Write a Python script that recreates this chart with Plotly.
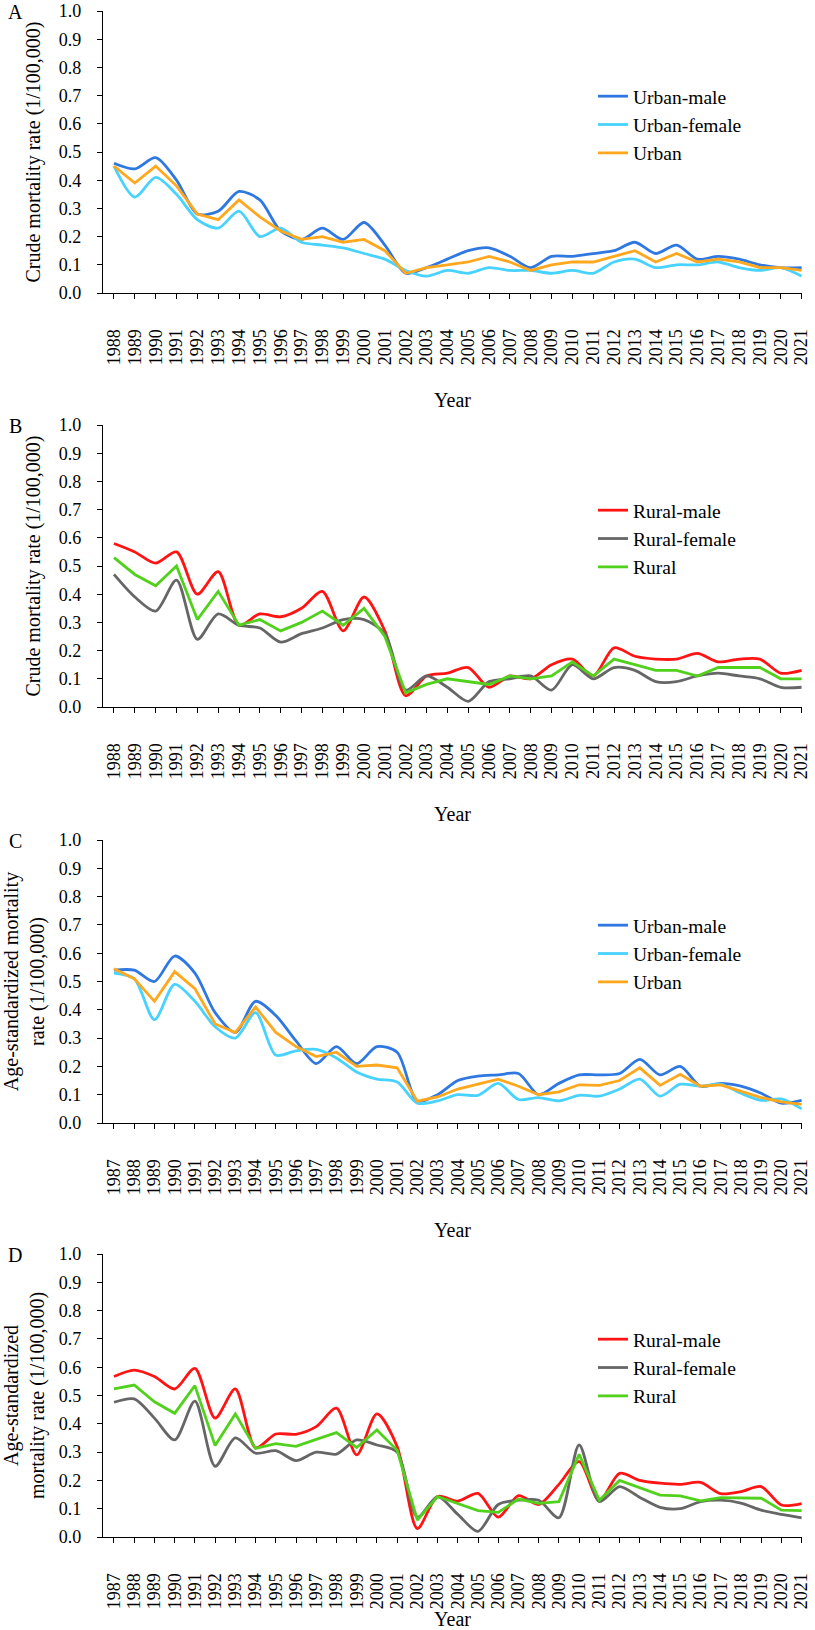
import plotly.graph_objects as go

years_ab = list(range(1988, 2022))
years_cd = list(range(1987, 2022))

# Panel A: crude mortality, urban
a_urban_male = [0.46, 0.44, 0.48, 0.40, 0.28, 0.29, 0.36, 0.33, 0.22, 0.19, 0.23, 0.19, 0.25, 0.17, 0.07,
                0.09, 0.12, 0.15, 0.16, 0.13, 0.09, 0.13, 0.13, 0.14, 0.15, 0.18, 0.14, 0.17, 0.12, 0.13,
                0.12, 0.10, 0.09, 0.09]
a_urban_female = [0.45, 0.34, 0.41, 0.35, 0.26, 0.23, 0.29, 0.20, 0.23, 0.18, 0.17, 0.16, 0.14, 0.12, 0.08,
                  0.06, 0.08, 0.07, 0.09, 0.08, 0.08, 0.07, 0.08, 0.07, 0.11, 0.12, 0.09, 0.10, 0.10, 0.11,
                  0.09, 0.08, 0.09, 0.06]
a_urban = [0.45, 0.39, 0.45, 0.38, 0.28, 0.26, 0.33, 0.27, 0.22, 0.19, 0.20, 0.18, 0.19, 0.15, 0.07,
           0.09, 0.10, 0.11, 0.13, 0.11, 0.08, 0.10, 0.11, 0.11, 0.13, 0.15, 0.11, 0.14, 0.11, 0.12,
           0.11, 0.09, 0.09, 0.08]

# Panel B: crude mortality, rural
b_rural_male = [0.58, 0.55, 0.51, 0.55, 0.40, 0.48, 0.29, 0.33, 0.32, 0.35, 0.41, 0.27, 0.39, 0.27, 0.04,
                0.11, 0.12, 0.14, 0.07, 0.11, 0.10, 0.15, 0.17, 0.11, 0.21, 0.18, 0.17, 0.17, 0.19, 0.16,
                0.17, 0.17, 0.12, 0.13]
b_rural_female = [0.47, 0.39, 0.34, 0.45, 0.24, 0.33, 0.29, 0.28, 0.23, 0.26, 0.28, 0.31, 0.31, 0.26, 0.06,
                  0.11, 0.07, 0.02, 0.09, 0.10, 0.11, 0.06, 0.15, 0.10, 0.14, 0.13, 0.09, 0.09, 0.11, 0.12,
                  0.11, 0.10, 0.07, 0.07]
b_rural = [0.53, 0.47, 0.43, 0.50, 0.31, 0.41, 0.29, 0.31, 0.27, 0.30, 0.34, 0.29, 0.35, 0.25, 0.05,
           0.08, 0.10, 0.09, 0.08, 0.11, 0.10, 0.11, 0.16, 0.11, 0.17, 0.15, 0.13, 0.13, 0.11, 0.14,
           0.14, 0.14, 0.10, 0.10]

# Panel C: age-standardized mortality, urban
c_urban_male = [0.54, 0.54, 0.50, 0.59, 0.53, 0.39, 0.32, 0.43, 0.38, 0.29, 0.21, 0.27, 0.21, 0.27, 0.25,
                0.077, 0.10, 0.15, 0.166, 0.17, 0.175, 0.10, 0.14, 0.17, 0.17, 0.175, 0.225, 0.17, 0.20,
                0.13, 0.14, 0.13, 0.105, 0.07, 0.08]
c_urban_female = [0.53, 0.51, 0.365, 0.49, 0.43, 0.34, 0.30, 0.39, 0.24, 0.255, 0.26, 0.23, 0.18, 0.155, 0.145,
                  0.07, 0.078, 0.10, 0.098, 0.14, 0.083, 0.09, 0.078, 0.098, 0.095, 0.12, 0.155, 0.095, 0.137,
                  0.13, 0.137, 0.105, 0.08, 0.085, 0.05]
c_urban = [0.545, 0.51, 0.43, 0.535, 0.475, 0.35, 0.32, 0.41, 0.32, 0.27, 0.235, 0.25, 0.20, 0.205, 0.195,
           0.077, 0.092, 0.12, 0.137, 0.155, 0.13, 0.10, 0.11, 0.135, 0.133, 0.15, 0.195, 0.133, 0.172,
           0.13, 0.135, 0.112, 0.09, 0.075, 0.066]

# Panel D: age-standardized mortality, rural
d_rural_male = [0.567, 0.59, 0.567, 0.523, 0.596, 0.42, 0.523, 0.315, 0.364, 0.363, 0.39, 0.455, 0.29, 0.435, 0.32,
                0.03, 0.143, 0.127, 0.154, 0.07, 0.146, 0.115, 0.186, 0.266, 0.128, 0.225, 0.20, 0.19, 0.186,
                0.193, 0.153, 0.16, 0.178, 0.113, 0.118]
d_rural_female = [0.476, 0.488, 0.42, 0.343, 0.48, 0.25, 0.35, 0.296, 0.305, 0.27, 0.30, 0.293, 0.343, 0.325, 0.30,
                  0.07, 0.143, 0.08, 0.02, 0.115, 0.13, 0.13, 0.068, 0.325, 0.125, 0.178, 0.14, 0.105, 0.10,
                  0.125, 0.13, 0.12, 0.095, 0.08, 0.068]
d_rural = [0.523, 0.537, 0.478, 0.437, 0.535, 0.323, 0.435, 0.313, 0.33, 0.32, 0.345, 0.369, 0.316, 0.378, 0.307,
           0.06, 0.143, 0.117, 0.093, 0.087, 0.134, 0.119, 0.125, 0.292, 0.13, 0.20, 0.174, 0.148, 0.145,
           0.128, 0.139, 0.137, 0.137, 0.095, 0.093]

y_ticks = [0.0, 0.1, 0.2, 0.3, 0.4, 0.5, 0.6, 0.7, 0.8, 0.9, 1.0]

C_UM, C_UF, C_U = "#2F78E2", "#47D2FF", "#FFA81E"
C_RM, C_RF, C_R = "#FF1414", "#666666", "#52D11C"

FONT = "Liberation Serif"
W, H = 815, 1630

panels = [
    dict(letter="A", years=years_ab, top=11, bottom=293, ystand=12,
         title="Crude mortality rate (1/100,000)",
         series=[("Urban-male", a_urban_male, C_UM, True),
                 ("Urban-female", a_urban_female, C_UF, True),
                 ("Urban", a_urban, C_U, False)]),
    dict(letter="B", years=years_ab, top=425, bottom=707, ystand=12,
         title="Crude mortality rate (1/100,000)",
         series=[("Rural-male", b_rural_male, C_RM, True),
                 ("Rural-female", b_rural_female, C_RF, True),
                 ("Rural", b_rural, C_R, False)]),
    dict(letter="C", years=years_cd, top=840, bottom=1123, ystand=19,
         title="Age-standardized mortality<br>rate (1/100,000)",
         series=[("Urban-male", c_urban_male, C_UM, True),
                 ("Urban-female", c_urban_female, C_UF, True),
                 ("Urban", c_urban, C_U, False)]),
    dict(letter="D", years=years_cd, top=1254, bottom=1537, ystand=19,
         title="Age-standardized<br>mortality rate (1/100,000)",
         series=[("Rural-male", d_rural_male, C_RM, True),
                 ("Rural-female", d_rural_female, C_RF, True),
                 ("Rural", d_rural, C_R, False)]),
]

fig = go.Figure()
layout = dict(width=W, height=H, autosize=False,
              margin=dict(l=0, r=0, t=0, b=0),
              paper_bgcolor="white", plot_bgcolor="white",
              font=dict(family=FONT, color="black", size=18),
              annotations=[])

x_left_px, x_right_px, first_pt_px = 103, 802, 114

for i, p in enumerate(panels):
    n = i + 1
    xa = "xaxis" if n == 1 else f"xaxis{n}"
    ya = "yaxis" if n == 1 else f"yaxis{n}"
    xref = "x" if n == 1 else f"x{n}"
    yref = "y" if n == 1 else f"y{n}"
    leg = "legend" if n == 1 else f"legend{n}"
    yrs = p["years"]
    step = (x_right_px - first_pt_px) / (len(yrs) - 1)
    x0 = yrs[0] - (first_pt_px - x_left_px) / step
    for name, vals, col, smooth in p["series"]:
        fig.add_trace(go.Scatter(
            x=yrs, y=vals, name=name, mode="lines",
            line=dict(color=col, width=2.8, shape="spline" if smooth else "linear",
                      smoothing=0.8 if smooth else None),
            xaxis=xref, yaxis=yref, legend=leg, hoverinfo="x+y+name"))
    dom_y = [1 - p["bottom"] / H, 1 - p["top"] / H]
    layout[xa] = dict(domain=[x_left_px / W, x_right_px / W], anchor=yref,
                      range=[x0, yrs[-1] + 0.02], tickmode="array", tickvals=yrs,
                      ticktext=[str(y) for y in yrs], tickangle=-90,
                      ticks="outside", ticklen=5, tickwidth=1.2, tickcolor="black",
                      showline=True, linecolor="black", linewidth=1.3,
                      showgrid=False, zeroline=False, automargin=False,
                      ticklabeloverflow="allow",
                      tickfont=dict(size=18, family=FONT), ticklabelstandoff=23,
                      title=dict(text="Year", font=dict(size=20, family=FONT), standoff=28))
    layout[ya] = dict(domain=dom_y, anchor=xref, range=[0, 1], tickmode="array",
                      tickvals=y_ticks, ticktext=[f"{v:.1f}" for v in y_ticks],
                      ticks="outside", ticklen=5, tickwidth=1.2, tickcolor="black",
                      showline=True, linecolor="black", linewidth=1.3,
                      showgrid=False, zeroline=False, automargin=False,
                      tickfont=dict(size=18, family=FONT), ticklabelstandoff=12,
                      title=dict(text=p["title"], font=dict(size=20, family=FONT),
                                 standoff=p["ystand"]))
    layout[leg] = dict(x=593 / W, xanchor="left", y=1 - (p["top"] + 66) / H, yanchor="top",
                       xref="paper", yref="paper", bgcolor="rgba(0,0,0,0)", borderwidth=0,
                       font=dict(size=19.5, family=FONT, color="black"),
                       itemwidth=30, tracegroupgap=0)
    layout["annotations"].append(dict(text=p["letter"], x=15 / W, y=1 - (p["top"] + 1) / H,
                                      xref="paper", yref="paper", showarrow=False,
                                      xanchor="center", yanchor="middle",
                                      font=dict(size=20, family=FONT)))

fig.update_layout(**layout)
fig.write_html("out.html", config={"displayModeBar": False},
               post_script="document.body.style.margin='0';document.body.style.padding='0';")
